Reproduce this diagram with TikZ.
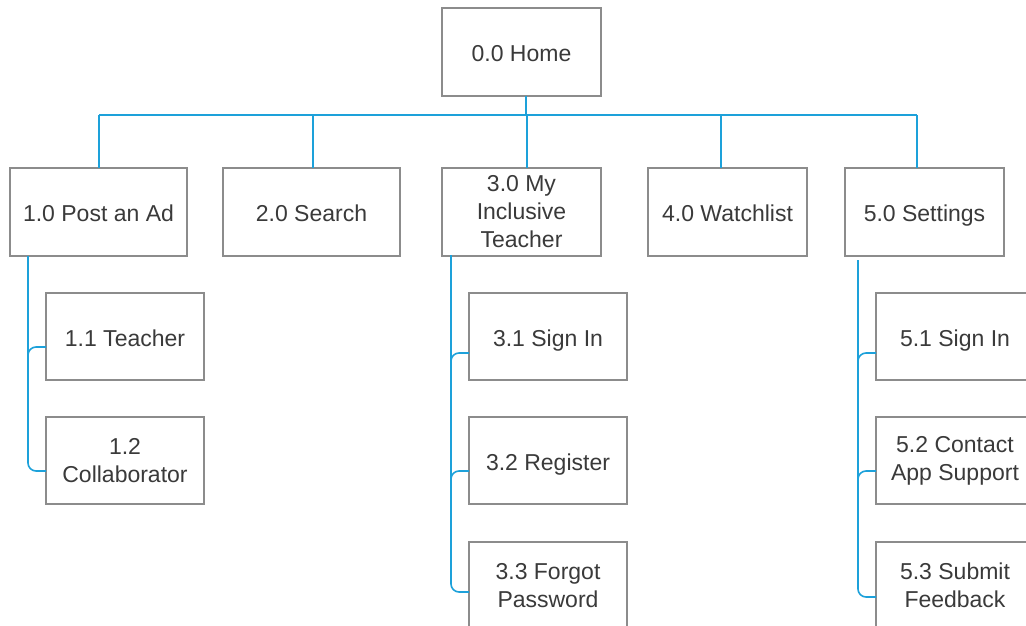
\documentclass[tikz,border=0pt]{standalone}
\usepackage{fontspec}
\setmainfont{Liberation Sans}
\usetikzlibrary{calc}
\definecolor{boxline}{HTML}{8C8C8C}
\definecolor{linkblue}{HTML}{1DA1DA}
\definecolor{txt}{HTML}{3A3A3A}
\tikzset{
  box/.style={draw=boxline, line width=1.6pt, fill=white, rectangle, inner sep=0pt, outer sep=0pt,
    minimum height=88pt, align=center, text=txt, font=\fontsize{23}{28}\selectfont},
  oneline/.style={text height=21.5pt, text depth=2pt},
  wbox/.style={box, minimum width=177pt},
  nbox/.style={box, minimum width=159pt},
  cbox/.style={box, minimum width=158pt, minimum height=87pt},
  link/.style={draw=linkblue, line width=1.6pt},
  branch/.style={link, rounded corners=8pt}
}
\begin{document}
\begin{tikzpicture}[x=1pt,y=-1pt]
\useasboundingbox (0,0) rectangle (1026,626);
% level 0
\node[nbox,oneline] (home) at (521.5,52) {0.0 Home};
% level 1
\node[wbox,oneline] (n1) at (98.5,212) {1.0 Post an Ad};
\node[wbox,oneline] (n2) at (311.5,212) {2.0 Search};
\node[nbox] (n3) at (521.5,212) {3.0 My\\Inclusive\\Teacher};
\node[nbox,oneline] (n4) at (727.5,212) {4.0 Watchlist};
\node[nbox,oneline] (n5) at (924.5,212) {5.0 Settings};
% level 2
\node[cbox,oneline] (n11) at (125,336.5) {1.1 Teacher};
\node[cbox] (n12) at (125,460.5) {1.2\\Collaborator};
\node[cbox,oneline] (n31) at (548,336.5) {3.1 Sign In};
\node[cbox,oneline] (n32) at (548,460.5) {3.2 Register};
\node[cbox] (n33) at (548,585.5) {3.3 Forgot\\Password};
\node[cbox,oneline] (n51) at (955,336.5) {5.1 Sign In};
\node[cbox] (n52) at (955,460.5) {5.2 Contact\\App Support};
\node[cbox] (n53) at (955,585.5) {5.3 Submit\\Feedback};
% bus
\coordinate (busL) at (99,115);
\coordinate (busR) at (917,115);
\coordinate (t0) at ([xshift=4.5pt]home.south);
\coordinate (t1) at ([xshift=0.5pt]n1.north);
\coordinate (t2) at ([xshift=1.5pt]n2.north);
\coordinate (t3) at ([xshift=5.5pt]n3.north);
\coordinate (t4) at ([xshift=-6.5pt]n4.north);
\coordinate (t5) at ([xshift=-7.5pt]n5.north);
\draw[link] (busL) -- (busR);
\draw[link] (t0) -- (t0 |- busL);
\draw[link] (t1 |- busL) -- (t1);
\draw[link] (t2 |- busL) -- (t2);
\draw[link] (t3 |- busL) -- (t3);
\draw[link] (t4 |- busL) -- (t4);
\draw[link] (t5 |- busL) -- (t5);
% children of 1.0
\coordinate (s1) at ([xshift=-70.5pt]n1.south);
\coordinate (c11) at ([yshift=-10.5pt]n11.west);
\coordinate (c12) at ([yshift=-10.5pt]n12.west);
\draw[branch] (s1) |- (c12);
\draw[branch] ($(s1 |- c11)+(0,20)$) |- (c11);
% children of 3.0
\coordinate (s3) at ([xshift=-70.5pt,yshift=1pt]n3.south);
\coordinate (c31) at ([yshift=-16.5pt]n31.west);
\coordinate (c32) at ([yshift=-10.5pt]n32.west);
\coordinate (c33) at ([yshift=-6.5pt]n33.west);
\draw[branch] (s3) |- (c33);
\draw[branch] ($(s3 |- c31)+(0,20)$) |- (c31);
\draw[branch] ($(s3 |- c32)+(0,20)$) |- (c32);
% children of 5.0
\coordinate (s5) at ([xshift=-66.5pt,yshift=-4pt]n5.south);
\coordinate (c51) at ([yshift=-16.5pt]n51.west);
\coordinate (c52) at ([yshift=-10.5pt]n52.west);
\coordinate (c53) at ([yshift=-11.5pt]n53.west);
\draw[branch] (s5) |- (c53);
\draw[branch] ($(s5 |- c51)+(0,20)$) |- (c51);
\draw[branch] ($(s5 |- c52)+(0,20)$) |- (c52);
\end{tikzpicture}
\end{document}
